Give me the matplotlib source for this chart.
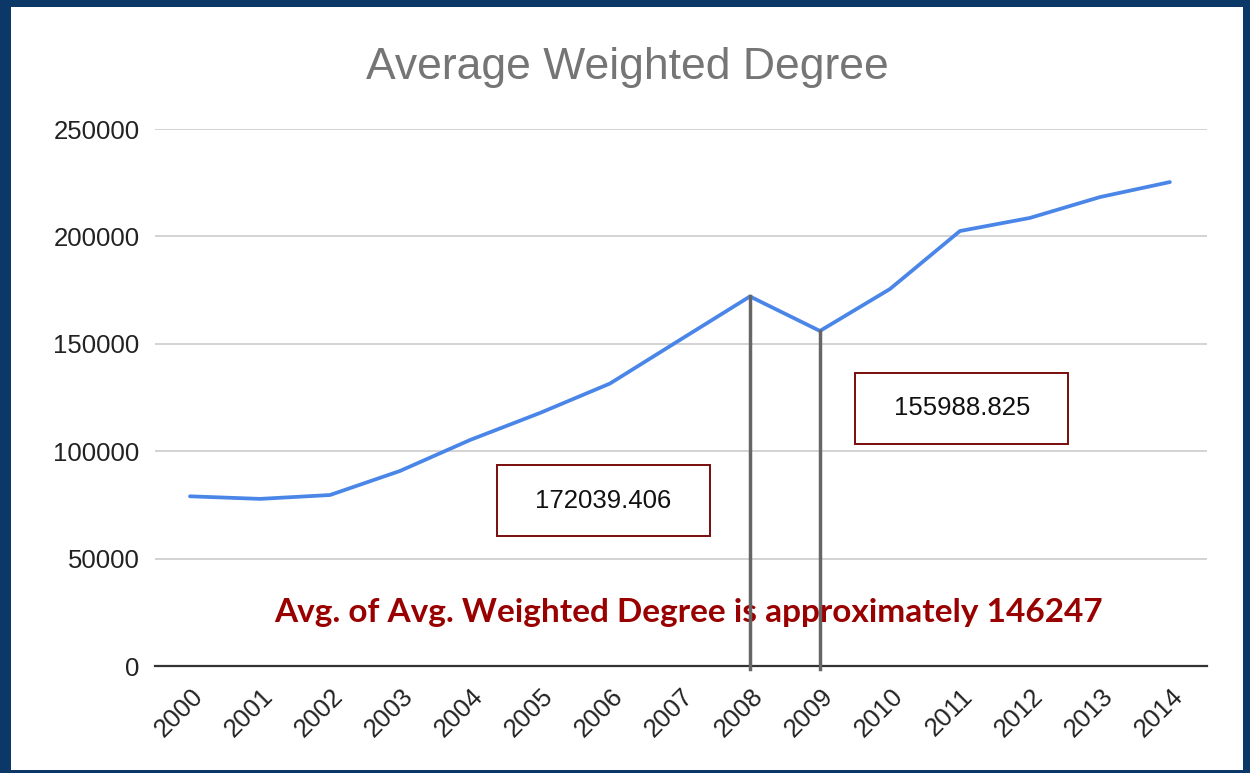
import matplotlib.pyplot as plt
import matplotlib.transforms as mtransforms
from matplotlib.patches import Rectangle

# Average weighted degree per year
years = [str(y) for y in range(2000, 2015)]
avg_degree = [79000, 77800, 79600, 90800, 105200, 117800, 131500, 151800,
              172039.406, 155988.825, 175500, 202500, 208600, 218300, 225300]
y_ticks = [0, 50000, 100000, 150000, 200000, 250000]
highlight_years = ["2008", "2009"]
overall_avg = 146247

W, H = 1250, 773
fig = plt.figure(figsize=(W / 100, H / 100), dpi=100, facecolor="#0b3866")
# white card inside the dark blue frame
fig.add_artist(Rectangle((11 / W, 3 / H), (W - 18) / W, (H - 10) / H,
                         transform=fig.transFigure, facecolor="white",
                         edgecolor="none", zorder=-1))

ax = fig.add_axes([155 / W, 1 - 666 / H, (1207 - 155) / W, (666 - 129) / H])
ax.set_facecolor("none")

x = list(range(len(years)))
ax.plot(x, avg_degree, color="#4a86e8", lw=2.7, solid_capstyle="round",
        solid_joinstyle="round", zorder=3)

# grey drop lines from the 2008 / 2009 points
for yr in highlight_years:
    i = years.index(yr)
    ax.plot([i, i], [avg_degree[i], -1200], color="#666666", lw=2.5,
            zorder=4, clip_on=False)

ax.set_xlim(-0.5, 14.53)
ax.set_ylim(0, 250000)
ax.set_yticks(y_ticks)
ax.set_yticklabels([str(v) for v in y_ticks])
ax.set_xticks(x)
ax.set_xticklabels(years)

for s in ["top", "right", "left"]:
    ax.spines[s].set_visible(False)
ax.spines["bottom"].set_color("#333333")
ax.spines["bottom"].set_linewidth(1.6)
ax.grid(axis="y", color="#cccccc", lw=1.2)
ax.set_axisbelow(True)
ax.tick_params(length=0)
ax.tick_params(axis="y", pad=11, labelsize=18.5, labelcolor="#222222")
ax.tick_params(axis="x", labelsize=18.5, labelcolor="#222222")
for lab in ax.get_yticklabels() + ax.get_xticklabels():
    lab.set_fontfamily("Liberation Sans")

offset = mtransforms.ScaledTranslation(9 / 100, -22 / 100, fig.dpi_scale_trans)
for lab in ax.get_xticklabels():
    lab.set_rotation(45)
    lab.set_ha("right")
    lab.set_va("center")
    lab.set_rotation_mode("anchor")
    lab.set_transform(lab.get_transform() + offset)

# value boxes
boxes = [(0.4263, 0.308), (0.767, 0.480)]
bw, bh = 213 / 1052, 71 / 537
for yr, (cx, cy) in zip(highlight_years, boxes):
    val = avg_degree[years.index(yr)]
    ax.add_patch(Rectangle((cx - bw / 2, cy - bh / 2), bw, bh,
                           transform=ax.transAxes, facecolor="white",
                           edgecolor="#7a0c0c", lw=1.4, zorder=5))
    ax.text(cx, cy, f"{val:.3f}", transform=ax.transAxes, ha="center",
            va="center", fontsize=18.5, family="Liberation Sans",
            color="#111111", zorder=6)

ax.text(0.5076, 0.0987, f"Avg. of Avg. Weighted Degree is approximately {overall_avg}",
        transform=ax.transAxes, ha="center", va="center", fontsize=24,
        family="Lato", fontweight="bold", color="#990000", zorder=2)

fig.text(627 / W, 1 - 67 / H, "Average Weighted Degree", ha="center",
         va="center", fontsize=32, family="Liberation Sans", color="#757575")

fig.savefig("out.png", dpi=100, facecolor=fig.get_facecolor())
